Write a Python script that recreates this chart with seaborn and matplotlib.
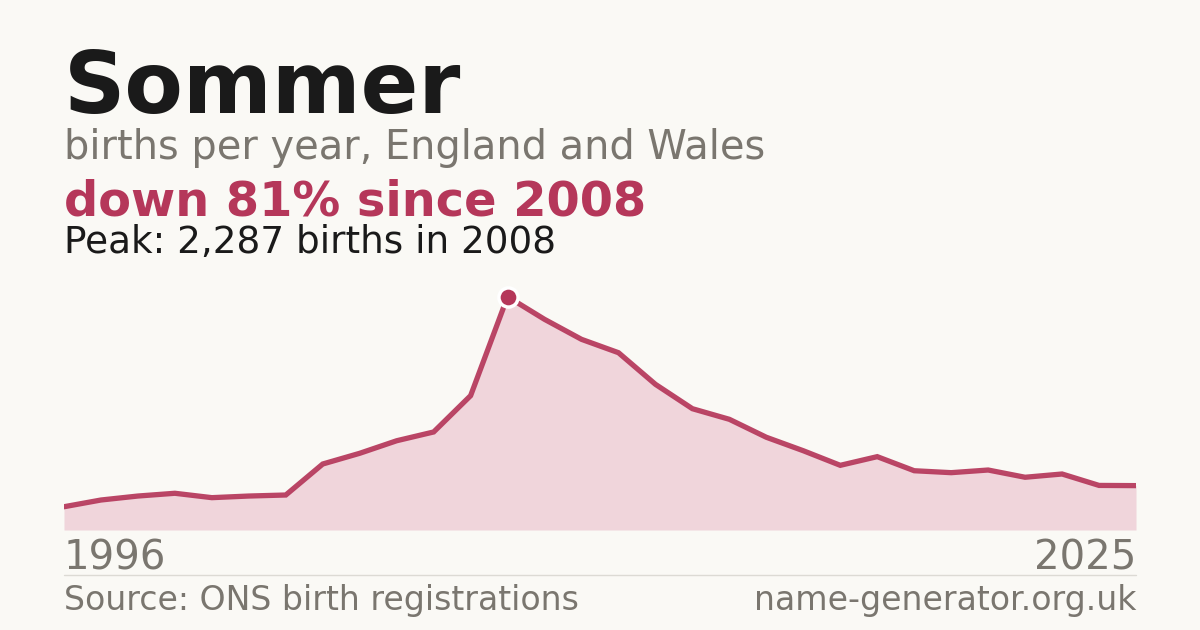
import numpy as np
import pandas as pd
import matplotlib
matplotlib.use("Agg")
import matplotlib.pyplot as plt
import seaborn as sns

# ── Data ────────────────────────────────────────────────────────────────────
years = list(range(1996, 2026))
births = [228, 294, 333, 360, 317, 333, 343, 647, 752, 875,
          961, 1317, 2287, 2065, 1869, 1738, 1428, 1189, 1085, 909,
          777, 634, 719, 581, 562, 588, 517, 549, 437, 435]

NAME = "Sommer"
SUBTITLE = "births per year, England and Wales"
HEADLINE = "down 81% since 2008"
PEAK_TEXT = "Peak: 2,287 births in 2008"
SOURCE = "Source: ONS birth registrations"
SITE = "name-generator.org.uk"

# ── Palette ─────────────────────────────────────────────────────────────────
BG = "#faf9f5"
RED = "#b5375a"
FILL = "#f0d5db"
INK = "#1a1a1a"
GRAY = "#7a766f"
RULE = "#dcdad4"

sns.set_theme(style="white")
plt.rcParams["font.family"] = ["DejaVu Sans"]

W, H = 1200, 630
fig = plt.figure(figsize=(W / 100, H / 100), dpi=100, facecolor=BG)


def fy(py):
    return 1 - py / H


def fx(px):
    return px / W


# plot area: x 64..1136, baseline y=530, top y=270
ax = fig.add_axes([fx(64), fy(530), fx(1136) - fx(64), fy(270) - fy(530)])
ax.set_facecolor(BG)

df = pd.DataFrame({"year": years, "births": births})
peak_val = max(births)
ymax = peak_val * (530 - 270) / (530 - 296.7)

ax.fill_between(df["year"], df["births"], 0, color=FILL, linewidth=0, zorder=1)
sns.lineplot(data=df, x="year", y="births", ax=ax, color=RED, linewidth=3.8,
             alpha=0.92, solid_joinstyle="miter", zorder=2)
peak_year = years[births.index(peak_val)]
ax.scatter([peak_year], [peak_val], s=190, color=RED, edgecolor="white",
           linewidth=2.5, zorder=3)

ax.set_xlim(years[0], years[-1])
ax.set_ylim(0, ymax)
ax.set_axis_off()

# ── Text ────────────────────────────────────────────────────────────────────
fig.text(fx(64), fy(113), NAME, fontsize=61.4, fontweight="bold", color=INK, va="baseline")
fig.text(fx(64), fy(159), SUBTITLE, fontsize=28.7, color=GRAY, va="baseline")
fig.text(fx(64), fy(215), HEADLINE, fontsize=34.5, fontweight="bold", color=RED, va="baseline")
fig.text(fx(64), fy(253), PEAK_TEXT, fontsize=26.9, color=INK, va="baseline")

fig.text(fx(64), fy(569), str(years[0]), fontsize=28.9, color=GRAY, va="baseline", ha="left")
fig.text(fx(1136), fy(569), str(years[-1]), fontsize=28.9, color=GRAY, va="baseline", ha="right")

fig.add_artist(plt.Line2D([fx(64), fx(1136)], [fy(574.5), fy(574.5)], color=RULE, linewidth=1))

fig.text(fx(64), fy(610), SOURCE, fontsize=23.9, color=GRAY, va="baseline")
fig.text(fx(1136), fy(610), SITE, fontsize=23.9, color=GRAY, va="baseline", ha="right")

fig.savefig("out.png", dpi=100, facecolor=BG)
plt.close(fig)
